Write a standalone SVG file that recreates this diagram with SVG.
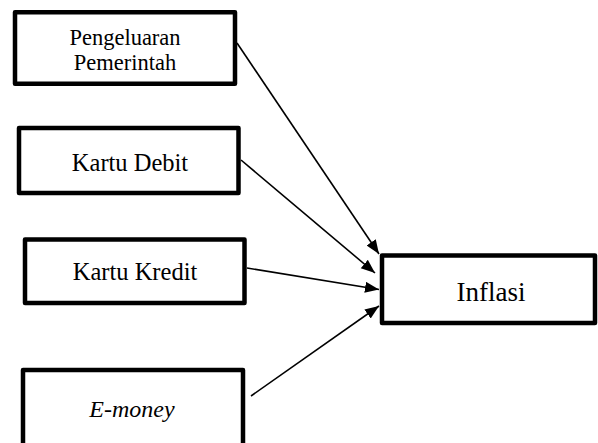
<svg xmlns="http://www.w3.org/2000/svg" width="598" height="443" viewBox="0 0 598 443">
<style>
.box{fill:#fff;stroke:#000;stroke-width:4.5;stroke-linejoin:round}
.t{font-family:"Liberation Serif","Times New Roman",serif;fill:#000;text-anchor:middle}
.c{stroke:#000;stroke-width:1.6;fill:none}
</style>
<defs>
<marker id="ah" markerUnits="userSpaceOnUse" markerWidth="15" markerHeight="12" refX="14" refY="5.5" orient="auto">
<path d="M0,0 L14,5.5 L0,11 z" fill="#000"/>
</marker>
</defs>
<rect width="598" height="443" fill="#fff"/>
<g id="connectors">
<line class="c" x1="237" y1="43" x2="379" y2="254" marker-end="url(#ah)"/>
<line class="c" x1="241" y1="160" x2="375" y2="273" marker-end="url(#ah)"/>
<line class="c" x1="247" y1="268" x2="379" y2="289.5" marker-end="url(#ah)"/>
<line class="c" x1="251" y1="396" x2="379" y2="306" marker-end="url(#ah)"/>
</g>
<g id="pengeluaran">
<rect class="box" x="15" y="12.3" width="220" height="71.5"/>
<text class="t" x="125" y="45" font-size="22.5">Pengeluaran</text>
<text class="t" x="125" y="70" font-size="22.5">Pemerintah</text>
</g>
<g id="debit">
<rect class="box" x="19" y="128" width="219.5" height="65"/>
<text class="t" x="130" y="170.5" font-size="24.5">Kartu Debit</text>
</g>
<g id="kredit">
<rect class="box" x="25" y="239.5" width="219.5" height="63.5"/>
<text class="t" x="135" y="280" font-size="24.5">Kartu Kredit</text>
</g>
<g id="emoney">
<rect class="box" x="23" y="370" width="220" height="100"/>
<text class="t" x="132" y="417" font-size="24" font-style="italic">E-money</text>
</g>
<g id="inflasi">
<rect class="box" x="382" y="255.5" width="213" height="67.5"/>
<text class="t" x="491" y="301" font-size="27">Inflasi</text>
</g>
</svg>
